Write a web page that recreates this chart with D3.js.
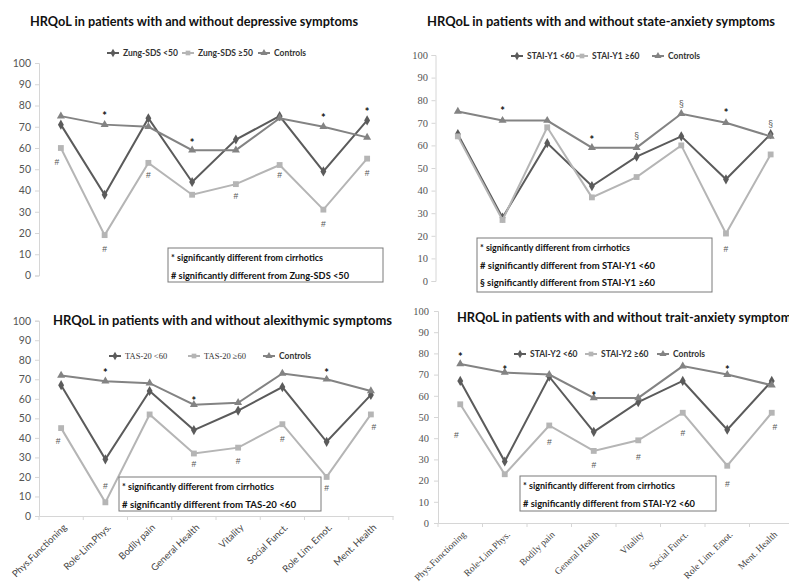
<!DOCTYPE html>
<html>
<head>
<meta charset="utf-8">
<script src="https://cdn.jsdelivr.net/npm/d3@7"></script>
<style>
  html, body { margin: 0; padding: 0; background: #fff; }
  svg { display: block; }
</style>
</head>
<body>
<svg id="chart" width="789" height="582"></svg>
<script>
// SF-36 domains shared by all four panels
const domains = ["Phys.Functioning", "Role-Lim.Phys.", "Bodily pain", "General Health",
                 "Vitality", "Social Funct.", "Role Lim. Emot.", "Ment. Health"];
const yTicks = [0, 10, 20, 30, 40, 50, 60, 70, 80, 90, 100];

// Depressive symptoms (Zung-SDS)
const zungLow  = [71, 38, 74, 44, 64, 75, 49, 73];
const zungHigh = [60, 19, 53, 38, 43, 52, 31, 55];
const controlsDep = [75, 71, 70, 59, 59, 74, 70, 65];
const marksDep = [
  {i: 1, s: "*", v: 76}, {i: 3, s: "*", v: 63}, {i: 6, s: "*", v: 75}, {i: 7, s: "*", v: 78},
  {i: 0, s: "#", v: 53, dx: -4}, {i: 1, s: "#", v: 12}, {i: 2, s: "#", v: 47}, {i: 4, s: "#", v: 37},
  {i: 5, s: "#", v: 47}, {i: 6, s: "#", v: 24}, {i: 7, s: "#", v: 48}
];

// State anxiety (STAI-Y1)
const staiY1Low  = [65, 28, 61, 42, 55, 64, 45, 65];
const staiY1High = [64, 27, 68, 37, 46, 60, 21, 56];
const controlsState = [75, 71, 71, 59, 59, 74, 70, 64];
const marksState = [
  {i: 1, s: "*", v: 76}, {i: 3, s: "*", v: 63}, {i: 6, s: "*", v: 75},
  {i: 4, s: "§", v: 64}, {i: 5, s: "§", v: 78}, {i: 7, s: "§", v: 69},
  {i: 6, s: "#", v: 14}
];

// Alexithymia (TAS-20)
const tasLow  = [67, 29, 64, 44, 54, 66, 38, 62];
const tasHigh = [45, 7, 52, 32, 35, 47, 20, 52];
const controlsAlex = [72, 69, 68, 57, 58, 73, 70, 64];
const marksAlex = [
  {i: 1, s: "*", v: 74}, {i: 3, s: "*", v: 60}, {i: 6, s: "*", v: 74},
  {i: 0, s: "#", v: 38, dx: -3}, {i: 1, s: "#", v: 15}, {i: 3, s: "#", v: 26}, {i: 4, s: "#", v: 28},
  {i: 5, s: "#", v: 39}, {i: 6, s: "#", v: 14}, {i: 7, s: "#", v: 45, dx: 3}
];

// Trait anxiety (STAI-Y2)
const staiY2Low  = [67, 29, 69, 43, 57, 67, 44, 67];
const staiY2High = [56, 23, 46, 34, 39, 52, 27, 52];
const controlsTrait = [75, 71, 70, 59, 59, 74, 70, 65];
const marksTrait = [
  {i: 0, s: "*", v: 79}, {i: 1, s: "*", v: 73}, {i: 3, s: "*", v: 61}, {i: 6, s: "*", v: 73},
  {i: 0, s: "#", v: 41, dx: -4}, {i: 2, s: "#", v: 38}, {i: 3, s: "#", v: 27}, {i: 4, s: "#", v: 31},
  {i: 5, s: "#", v: 42}, {i: 6, s: "#", v: 18}, {i: 7, s: "#", v: 45, dx: 3}
];

const DARK = "#5b5b5b", MID = "#838383", LIGHT = "#b5b5b5";
const SANS = "Lato, 'Open Sans', sans-serif";
const SERIF = "'Liberation Serif', 'DejaVu Serif', serif";
const PLAIN = "'Liberation Sans', Arial, sans-serif";

const panels = [
  {
    title: "HRQoL in patients with and without depressive symptoms",
    titleX: 30, titleY: 26, titleW: 328,
    x0: 39, x1: 389, y100: 63, y0: 275.5, tickFont: SANS, tickX: 31, xAxis: false,
    series: [
      {name: "Zung-SDS <50", values: zungLow, color: DARK, shape: "diamond"},
      {name: "Zung-SDS \u226550", values: zungHigh, color: LIGHT, shape: "square"},
      {name: "Controls", values: controlsDep, color: MID, shape: "triangle"}
    ],
    legendY: 53, legendX: [107, 182, 258], legendFonts: [SANS, SANS, SANS],
    marks: marksDep,
    box: {x: 168, y: 248, w: 215, h: 34,
          lines: [{t: "* significantly different from cirrhotics", w: 152},
                  {t: "# significantly different from Zung-SDS <50", w: 178}]}
  },
  {
    title: "HRQoL in patients with and without state-anxiety symptoms",
    titleX: 427, titleY: 26, titleW: 348,
    x0: 435.5, x1: 793, y100: 55, y0: 281, tickFont: SERIF, tickX: 428, xAxis: false,
    series: [
      {name: "STAI-Y1 <60", values: staiY1Low, color: DARK, shape: "diamond"},
      {name: "STAI-Y1 \u226560", values: staiY1High, color: LIGHT, shape: "square"},
      {name: "Controls", values: controlsState, color: MID, shape: "triangle"}
    ],
    legendY: 56, legendX: [511, 576, 652], legendFonts: [SANS, SANS, SANS],
    marks: marksState,
    box: {x: 477, y: 238, w: 235, h: 54,
          lines: [{t: "* significantly different from cirrhotics", w: 150},
                  {t: "# significantly different from STAI-Y1 <60", w: 175},
                  {t: "§ significantly different from STAI-Y1 \u226560", w: 175}]}
  },
  {
    title: "HRQoL in patients with and without alexithymic symptoms",
    titleX: 53, titleY: 325, titleW: 339,
    x0: 39, x1: 393, y100: 320.7, y0: 516, tickFont: SANS, tickX: 31, xAxis: true, labelFont: SANS,
    series: [
      {name: "TAS-20 <60", values: tasLow, color: DARK, shape: "diamond"},
      {name: "TAS-20 \u226560", values: tasHigh, color: LIGHT, shape: "square"},
      {name: "Controls", values: controlsAlex, color: MID, shape: "triangle"}
    ],
    legendY: 356, legendX: [109, 188, 263], legendFonts: [SERIF, SERIF, SANS],
    marks: marksAlex,
    box: {x: 119, y: 477, w: 202, h: 34,
          lines: [{t: "* significantly different from cirrhotics", w: 152},
                  {t: "# significantly different from TAS-20 <60", w: 174}]}
  },
  {
    title: "HRQoL in patients with and without trait-anxiety symptoms",
    titleX: 457, titleY: 322, titleW: 340,
    x0: 438, x1: 794, y100: 311, y0: 523, tickFont: SERIF, tickX: 429, xAxis: true, labelFont: SERIF,
    series: [
      {name: "STAI-Y2 <60", values: staiY2Low, color: DARK, shape: "diamond"},
      {name: "STAI-Y2 \u226560", values: staiY2High, color: LIGHT, shape: "square"},
      {name: "Controls", values: controlsTrait, color: MID, shape: "triangle"}
    ],
    legendY: 354, legendX: [514, 585, 657], legendFonts: [SANS, SANS, SANS],
    marks: marksTrait,
    box: {x: 520, y: 476, w: 196, h: 35,
          lines: [{t: "* significantly different from cirrhotics", w: 152},
                  {t: "# significantly different from STAI-Y2 <60", w: 172}]}
  }
];

const svg = d3.select("#chart");

const symbolType = {diamond: d3.symbolDiamond, square: d3.symbolSquare, triangle: d3.symbolTriangle};
const symbolSize = {diamond: 30, square: 34, triangle: 28};

panels.forEach(p => {
  const g = svg.append("g");
  const x = d3.scaleBand().domain(domains).range([p.x0, p.x1]);
  const y = d3.scaleLinear().domain([0, 100]).range([p.y0, p.y100]);
  const cx = d => x(d) + x.bandwidth() / 2;

  // value axis
  const yAxis = g.append("g")
    .attr("transform", `translate(${p.x0},0)`)
    .call(d3.axisLeft(y).tickValues(yTicks).tickSize(4).tickPadding(p.x0 - p.tickX - 4));
  yAxis.select(".domain").attr("stroke", "#d6d6d6");
  yAxis.selectAll(".tick line").attr("stroke", "#d6d6d6");
  yAxis.selectAll(".tick text")
    .attr("fill", "#555").attr("font-family", p.tickFont).attr("font-size", 10.5);

  // category axis
  if (p.xAxis) {
    const xAxis = g.append("g")
      .attr("transform", `translate(0,${p.y0})`)
      .call(d3.axisBottom(x).tickSize(0));
    xAxis.select(".domain").attr("stroke", "#d6d6d6");
    // tick marks sit on the band boundaries
    xAxis.selectAll(".bound")
      .data(d3.range(domains.length + 1))
      .join("line")
      .attr("x1", i => p.x0 + i * x.step()).attr("x2", i => p.x0 + i * x.step())
      .attr("y1", 0).attr("y2", 4).attr("stroke", "#d6d6d6");
    xAxis.selectAll(".tick text")
      .attr("fill", "#444")
      .attr("font-family", p.labelFont).attr("font-size", 9.5)
      .attr("text-anchor", "end")
      .attr("dy", 0)
      .attr("transform", "translate(4,10) rotate(-44)");
  }

  // series lines and markers
  p.series.forEach(s => {
    const line = d3.line().x((v, i) => cx(domains[i])).y(v => y(v));
    g.append("path").datum(s.values)
      .attr("d", line).attr("fill", "none")
      .attr("stroke", s.color).attr("stroke-width", 2);
    g.selectAll(null).data(s.values).join("path")
      .attr("d", d3.symbol().type(symbolType[s.shape]).size(symbolSize[s.shape]))
      .attr("transform", (v, i) => `translate(${cx(domains[i])},${y(v)})`)
      .attr("fill", s.color);
  });

  // significance markers
  g.selectAll(null).data(p.marks).join("text")
    .attr("x", m => cx(domains[m.i]) + (m.dx || 0))
    .attr("y", m => y(m.v))
    .attr("text-anchor", "middle")
    .attr("dominant-baseline", "middle")
    .attr("font-family", m => m.s === "*" ? SANS : PLAIN)
    .attr("font-weight", m => m.s === "*" ? "bold" : "normal")
    .attr("font-size", m => m.s === "*" ? 11 : 8.5)
    .attr("fill", m => m.s === "*" ? "#111" : "#555")
    .attr("dy", m => m.s === "*" ? 3 : 0)
    .text(m => m.s);

  // legend
  p.series.forEach((s, k) => {
    const lx = p.legendX[k];
    g.append("line")
      .attr("x1", lx).attr("x2", lx + 12).attr("y1", p.legendY).attr("y2", p.legendY)
      .attr("stroke", s.color).attr("stroke-width", 2);
    g.append("path")
      .attr("d", d3.symbol().type(symbolType[s.shape]).size(22))
      .attr("transform", `translate(${lx + 6},${p.legendY})`)
      .attr("fill", s.color);
    g.append("text")
      .attr("x", lx + 16).attr("y", p.legendY + 3)
      .attr("font-family", p.legendFonts[k])
      .attr("font-weight", p.legendFonts[k] === SANS ? "bold" : "normal")
      .attr("font-size", 8.5).attr("fill", "#333")
      .text(s.name);
  });

  // footnote box
  const b = p.box;
  g.append("rect")
    .attr("x", b.x).attr("y", b.y).attr("width", b.w).attr("height", b.h)
    .attr("fill", "#fff").attr("stroke", "#7a7a7a").attr("stroke-width", 1);
  b.lines.forEach((ln, k) => {
    g.append("text")
      .attr("x", b.x + 3).attr("y", b.y + 13 + k * 17.5)
      .attr("font-family", SANS).attr("font-weight", "bold")
      .attr("font-size", 10).attr("fill", "#111")
      .attr("textLength", ln.w).attr("lengthAdjust", "spacingAndGlyphs")
      .text(ln.t);
  });

  // title
  g.append("text")
    .attr("x", p.titleX).attr("y", p.titleY)
    .attr("font-family", SANS).attr("font-weight", "bold")
    .attr("font-size", 13).attr("fill", "#111")
    .attr("textLength", p.titleW).attr("lengthAdjust", "spacingAndGlyphs")
    .text(p.title);
});
</script>
</body>
</html>
